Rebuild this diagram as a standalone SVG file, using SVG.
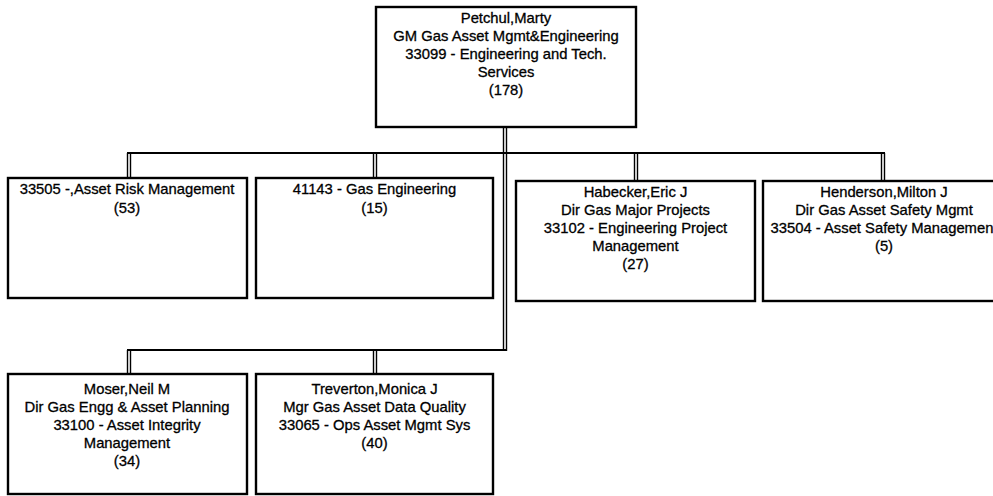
<svg xmlns="http://www.w3.org/2000/svg" width="993" height="496" viewBox="0 0 993 496">
<style>
.box{fill:#fff;stroke:#000;stroke-width:2.4}
.t{font-family:"Liberation Sans",Arial,sans-serif;font-size:14.8px;fill:#000;stroke:#000;stroke-width:0.3;text-anchor:middle}
.c{stroke:#000;stroke-width:1.4;fill:none}
.bus{stroke:#000;stroke-width:2.2;fill:none}
</style>
<rect width="993" height="496" fill="#fff"/>
<g id="connectors">
  <path class="c" d="M503.5,127V351M506.5,127V351"/>
  <path class="bus" d="M127,153H885"/>
  <path class="c" d="M127.5,153V178M130.5,153V178"/>
  <path class="c" d="M373.5,153V178M376.5,153V178"/>
  <path class="c" d="M634.5,153V181M637.5,153V181"/>
  <path class="c" d="M881.5,153V181M884.5,153V181"/>
  <path class="bus" d="M127,350H507"/>
  <path class="c" d="M127.5,350V374M130.5,350V374"/>
  <path class="c" d="M373.5,350V374M376.5,350V374"/>
</g>
<g id="n-petchul">
  <rect class="box" x="376" y="7" width="260" height="120"/>
  <text class="t" x="506" y="23">Petchul,Marty</text>
  <text class="t" x="506" y="41">GM Gas Asset Mgmt&amp;Engineering</text>
  <text class="t" x="506" y="59">33099 - Engineering and Tech.</text>
  <text class="t" x="506" y="77">Services</text>
  <text class="t" x="506" y="95">(178)</text>
</g>
<g id="n-33505">
  <rect class="box" x="8" y="178" width="239" height="120"/>
  <text class="t" x="127" y="194">33505 -,Asset Risk Management</text>
  <text class="t" x="127" y="213">(53)</text>
</g>
<g id="n-41143">
  <rect class="box" x="256" y="178" width="237" height="120"/>
  <text class="t" x="374.5" y="194">41143 - Gas Engineering</text>
  <text class="t" x="374.5" y="213">(15)</text>
</g>
<g id="n-habecker">
  <rect class="box" x="516" y="181" width="239" height="120"/>
  <text class="t" x="635.5" y="197">Habecker,Eric J</text>
  <text class="t" x="635.5" y="215">Dir Gas Major Projects</text>
  <text class="t" x="635.5" y="233">33102 - Engineering Project</text>
  <text class="t" x="635.5" y="251">Management</text>
  <text class="t" x="635.5" y="269">(27)</text>
</g>
<g id="n-henderson">
  <rect class="box" x="763" y="181" width="240" height="120"/>
  <text class="t" x="884" y="197">Henderson,Milton J</text>
  <text class="t" x="884" y="215">Dir Gas Asset Safety Mgmt</text>
  <text class="t" x="884" y="233">33504 - Asset Safety Management</text>
  <text class="t" x="884" y="251">(5)</text>
</g>
<g id="n-moser">
  <rect class="box" x="8" y="374" width="239" height="120"/>
  <text class="t" x="127" y="394">Moser,Neil M</text>
  <text class="t" x="127" y="412">Dir Gas Engg &amp; Asset Planning</text>
  <text class="t" x="127" y="430">33100 - Asset Integrity</text>
  <text class="t" x="127" y="448">Management</text>
  <text class="t" x="127" y="466">(34)</text>
</g>
<g id="n-treverton">
  <rect class="box" x="256" y="374" width="237" height="120"/>
  <text class="t" x="374.5" y="394">Treverton,Monica J</text>
  <text class="t" x="374.5" y="412">Mgr Gas Asset Data Quality</text>
  <text class="t" x="374.5" y="430">33065 - Ops Asset Mgmt Sys</text>
  <text class="t" x="374.5" y="448">(40)</text>
</g>
</svg>
